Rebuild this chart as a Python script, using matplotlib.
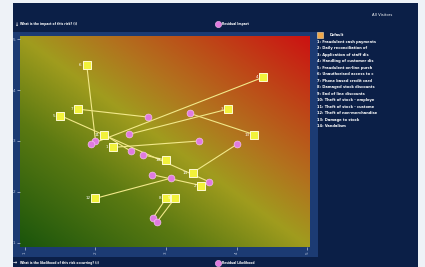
import numpy as np
import matplotlib
matplotlib.use('Agg')
import matplotlib.pyplot as plt
from matplotlib.colors import LinearSegmentedColormap
from matplotlib.patches import Rectangle

# inherent (square) positions: likelihood, impact
risk_ids = [6, 7, 5, 11, 1, 10, 12, 8, 9, 14, 2, 4, 3, 13]
inh_x = [1.875, 1.75, 1.5, 2.125, 2.25, 3.0, 2.0, 3.0, 3.125, 3.375, 3.5, 4.375, 3.875, 4.25]
inh_y = [4.5, 3.625, 3.5, 3.125, 2.875, 2.625, 1.875, 1.875, 1.875, 2.375, 2.125, 4.25, 3.625, 3.125]
# residual (circle) positions
res_x = [2.0, 2.74, 3.61, 2.5, 3.47, 2.67, 3.07, 2.81, 2.87, 4.01, 2.8, 1.94, 2.47, 3.34]
res_y = [3.0, 3.47, 2.2, 2.8, 3.0, 2.73, 2.27, 1.48, 1.41, 2.94, 2.34, 2.94, 3.13, 3.54]

legend_names = ['Fraudulent cash payments', 'Daily reconciliation of', 'Application of staff dis',
                'Handling of customer dis', 'Fraudulent on-line purch', 'Unauthorised access to c',
                'Phone based credit card', 'Damaged stock discounts', 'End of line discounts',
                'Theft of stock - employe', 'Theft of stock - custome', 'Theft of non-merchandise',
                'Damage to stock', 'Vandalism']
ticks = [1, 2, 3, 4, 5]

W, H = 425, 267
fig = plt.figure(figsize=(W / 100, H / 100), dpi=100)
fig.patch.set_facecolor('#eef2f7')

def fx(px):
    return px / W

def fy(py):
    return 1 - py / H

# navy panel and blue chart frame
fig.patches.append(Rectangle((fx(13), 0), fx(418) - fx(13), fy(3), transform=fig.transFigure,
                             facecolor='#0b1f47', edgecolor='none', zorder=-2))
fig.patches.append(Rectangle((fx(13), fy(257)), fx(318) - fx(13), fy(32) - fy(257),
                             transform=fig.transFigure, facecolor='#1c3b73', edgecolor='none', zorder=-1))

ax = fig.add_axes([fx(20), fy(247), fx(310) - fx(20), fy(36) - fy(247)])
ax.set_zorder(5)
xlim = (0.93, 5.04)
ylim = (0.92, 5.06)

cmap = LinearSegmentedColormap.from_list('risk', [
    (0.0, '#1a550c'), (0.3, '#5c7a12'), (0.5, '#a09c1e'),
    (0.65, '#b2721e'), (0.8, '#bd4a18'), (1.0, '#cc1212')])
u = np.linspace(0, 1, 300)
uu, vv = np.meshgrid(u, u)
ax.imshow((uu + vv) / 2, origin='lower', extent=(*xlim, *ylim), cmap=cmap,
          aspect='auto', interpolation='bilinear', zorder=0)
ax.set_xlim(xlim)
ax.set_ylim(ylim)

for i in range(len(inh_x)):
    ax.plot([inh_x[i], res_x[i]], [inh_y[i], res_y[i]], color='#f2e98a', lw=0.8, zorder=2)
ax.scatter(res_x, res_y, s=24, marker='o', color='#e07ae0', edgecolors='#f4c0f0', linewidths=0.5, zorder=3)
ax.scatter(inh_x, inh_y, s=26, marker='s', color='#f2f23a', edgecolors='#fffbd0', linewidths=0.7, zorder=4)
for i in range(len(inh_x)):
    ax.annotate(str(risk_ids[i]), (inh_x[i], inh_y[i]), xytext=(-3.5, 0), textcoords='offset points',
                ha='right', va='center', fontsize=3, color='white', zorder=5)

for s in ax.spines.values():
    s.set_visible(False)
ax.set_xticks(ticks)
ax.set_yticks(ticks)
ax.set_xticklabels([str(t) for t in ticks], rotation=90)
ax.tick_params(colors='#b8c4dc', labelsize=3, length=2, width=0.5, pad=1.5)

# header and footer
fig.text(fx(372), fy(15), 'All Visitors', fontsize=2.7, color='white', va='center')
fig.text(fx(14), fy(24), '\u2193', fontsize=3.5, color='white', va='center', fontweight='bold')
fig.text(fx(20), fy(24), 'What is the impact of this risk? (i)', fontsize=2.2, color='white',
         va='center', fontweight='bold')
fig.text(fx(13), fy(263), '\u2192', fontsize=3.5, color='white', va='center', fontweight='bold')
fig.text(fx(20), fy(263), 'What is the likelihood of this risk occurring? (i)', fontsize=2.2,
         color='white', va='center', fontweight='bold')
for py, txt in [(24, 'Residual Impact'), (263, 'Residual Likelihood')]:
    fig.add_artist(plt.Line2D([fx(218)], [fy(py)], marker='o', markersize=4.5, color='#e07ae0',
                              markeredgecolor='#f4c0f0', markeredgewidth=0.4, transform=fig.transFigure))
    fig.text(fx(222), fy(py), txt, fontsize=2.2, color='white', va='center', fontweight='bold')

# legend on the right
fig.add_artist(plt.Line2D([fx(320)], [fy(35)], marker='s', markersize=4.2, color='#f0a84a',
                          markeredgecolor='#fde0b0', markeredgewidth=0.4, transform=fig.transFigure))
fig.text(fx(330), fy(35), 'Default', fontsize=2.5, color='white', va='center', fontweight='bold')
for i, name in enumerate(legend_names):
    fig.text(fx(317), fy(42 + i * 6.48), '%d: %s' % (i + 1, name), fontsize=2.6, color='white',
             va='center', fontweight='bold')

fig.savefig('out.png', dpi=100, facecolor=fig.get_facecolor())
